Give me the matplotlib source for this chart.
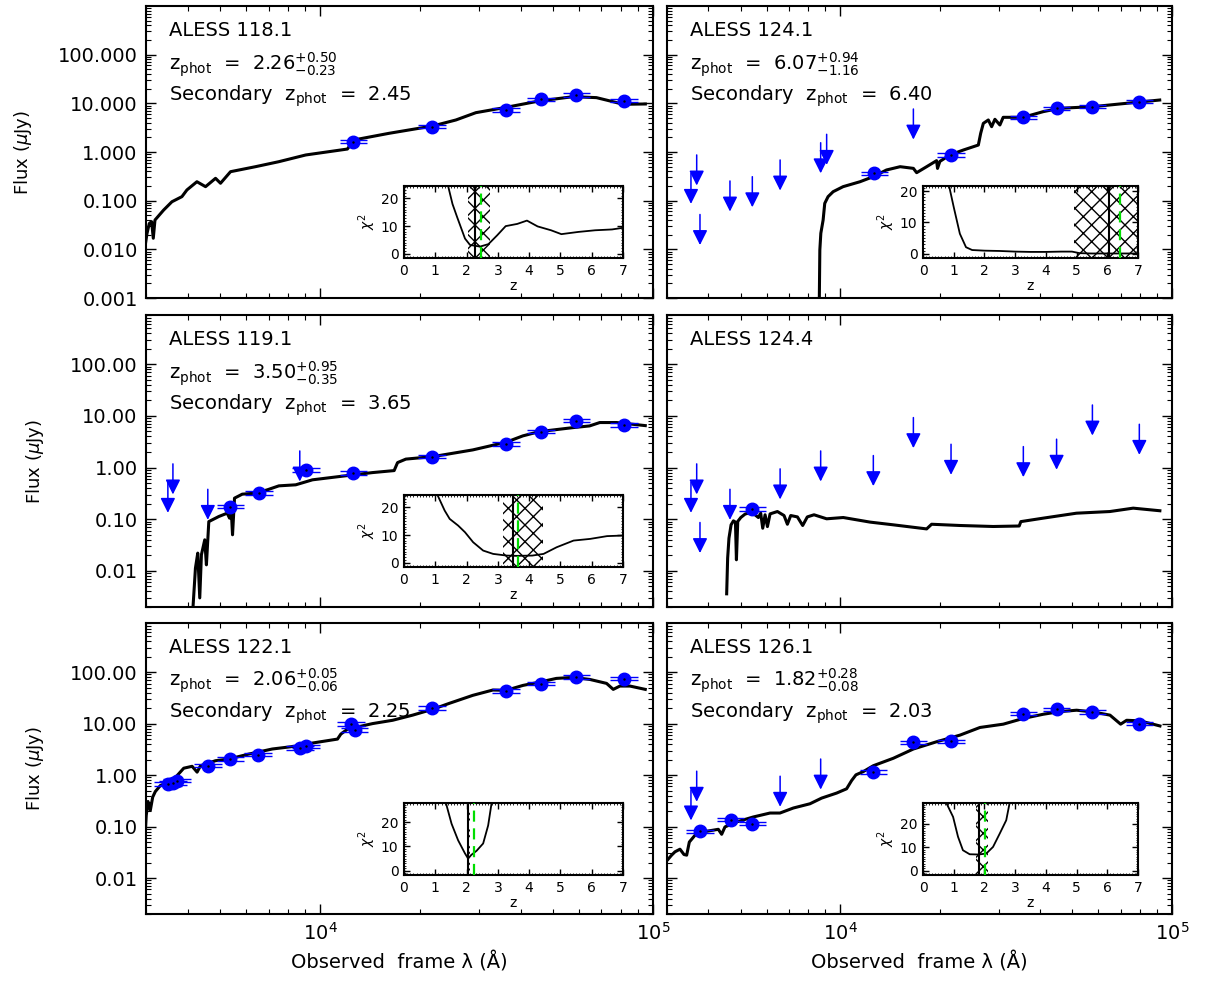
import numpy as np
import matplotlib
matplotlib.use('Agg')
import matplotlib.pyplot as plt
from matplotlib.ticker import FixedLocator, LogLocator, NullFormatter, FormatStrFormatter, MultipleLocator
from matplotlib.transforms import offset_copy

plt.rcParams['font.family'] = ['DejaVu Sans']
plt.rcParams['mathtext.fontset'] = 'dejavusans'
plt.rcParams['hatch.linewidth'] = 1.0

# ---------------- data (wavelength in Angstrom, flux in microJy) ----------------
# ALESS 118.1
sed_lam_118 = [2970, 3020, 3069, 3119, 3155, 3192, 3388, 3589, 3846, 3981, 4266, 4529, 4853, 5023,
               5383, 6397, 7516, 9057, 12078, 12647, 16106, 21777, 25586, 29376, 36224, 45604,
               57544, 67608, 75858, 81283, 94842]
sed_flux_118 = [0.0097, 0.021, 0.034, 0.037, 0.0169, 0.040, 0.064, 0.095, 0.121, 0.166, 0.245, 0.194,
                0.288, 0.228, 0.394, 0.499, 0.632, 0.869, 1.15, 1.77, 2.42, 3.42, 4.55, 6.43, 8.28,
                11.2, 13.7, 13.1, 10.8, 9.55, 9.7]
det_lam_118 = [12600, 21700, 36200, 46000, 58900, 81800]
det_flux_118 = [1.63, 3.31, 7.3, 12.1, 14.8, 11.3]
lim_lam_118 = []
lim_flux_118 = []
chi_z_118 = [1.41, 1.55, 1.70, 1.95, 2.11, 2.43, 2.70, 2.98, 3.25, 3.62, 3.93, 4.27, 4.70, 5.03,
             5.57, 6.11, 6.65, 7.0]
chi_118 = [24.5, 18.0, 13.2, 5.5, 3.2, 2.6, 3.5, 6.7, 10.0, 10.8, 12.0, 9.9, 8.5, 7.1, 7.9, 8.5, 8.8, 9.4]

# ALESS 124.1
sed_lam_1241 = [8630, 8670, 8730, 8870, 8970, 9180, 9510, 10190, 11460, 12560, 13770, 15140, 16600,
                16980, 18200, 19500, 19630, 19950, 21380, 23500, 26060, 26490, 26980, 27930, 28580,
                29240, 30270, 30970, 35560, 40830, 45810, 57810, 72780, 91830]
sed_flux_1241 = [0.0005, 0.0097, 0.0214, 0.040, 0.088, 0.121, 0.153, 0.194, 0.245, 0.311, 0.427,
                 0.499, 0.461, 0.376, 0.499, 0.664, 0.46, 0.64, 0.869, 1.10, 1.39, 2.42, 3.88, 4.55,
                 3.31, 4.70, 3.59, 5.16, 5.16, 6.73, 7.90, 8.55, 10.0, 11.7]
det_lam_1241 = [12650, 21560, 35620, 44870, 57540, 79700]
det_flux_1241 = [0.365, 0.87, 5.16, 7.9, 8.55, 10.8]
lim_lam_1241 = [3543, 3687, 3772, 4645, 5425, 6580, 8720, 9090, 16600]
lim_flux_1241 = [0.365, 0.87, 0.052, 0.254, 0.311, 0.686, 1.55, 2.31, 7.65]
chi_z_1241 = [0.85, 1.0, 1.2, 1.4, 1.6, 2.0, 2.5, 3.0, 3.5, 4.0, 4.5, 4.85, 5.1, 5.5, 6.0, 6.5, 7.0]
chi_1241 = [21.6, 14.9, 6.4, 2.1, 1.2, 1.0, 0.9, 0.7, 0.6, 0.6, 0.7, 0.7, 0.2, 0.1, 0.1, 0.1, 0.1]

# ALESS 119.1
sed_lam_119 = [4125, 4223, 4291, 4351, 4401, 4504, 4556, 4632, 4964, 5260, 5346, 5408, 5458, 5533,
               5838, 6400, 6940, 7520, 8450, 9490, 11400, 14360, 16690, 17090, 18100, 21800, 28750,
               36200, 40650, 45600, 57500, 64500, 69200, 77700, 94800]
sed_flux_119 = [0.001, 0.0113, 0.0221, 0.0030, 0.0205, 0.040, 0.0131, 0.090, 0.113, 0.131, 0.105,
                0.159, 0.050, 0.256, 0.306, 0.32, 0.371, 0.443, 0.464, 0.58, 0.67, 0.80, 0.875, 1.25,
                1.46, 1.63, 2.2, 3.10, 4.11, 4.98, 5.94, 6.41, 7.45, 7.45, 6.5]
det_lam_119 = [5380, 6550, 9060, 12600, 21700, 36200, 46000, 58900, 81800]
det_flux_119 = [0.176, 0.32, 0.90, 0.78, 1.63, 2.84, 4.98, 8.1, 6.7]
lim_lam_119 = [3490, 3614, 4600, 8690]
lim_flux_119 = [0.52, 1.18, 0.38, 2.1]
chi_z_119 = [1.07, 1.3, 1.46, 1.73, 1.95, 2.21, 2.53, 2.85, 3.28, 3.6, 4.1, 4.46, 4.88, 5.42, 5.95,
             6.49, 6.97]
chi_119 = [24.4, 18.8, 15.8, 13.4, 11.0, 7.4, 4.4, 3.2, 2.6, 2.5, 2.6, 3.2, 5.6, 8.0, 8.6, 9.6, 9.8]

# ALESS 124.4
sed_lam_1244 = [4540, 4571, 4613, 4681, 4758, 4825, 4858, 4903, 5008, 5160, 5403, 5658, 5750, 5832,
                5928, 6025, 6137, 6457, 6762, 6921, 7083, 7419, 7696, 7948, 8327, 9090, 10200, 12290,
                14430, 18200, 18840, 22930, 28890, 34610, 35010, 40890, 51520, 64930, 76380, 91920]
sed_flux_1244 = [0.0036, 0.0177, 0.043, 0.078, 0.093, 0.088, 0.0164, 0.0906, 0.108, 0.126, 0.137,
                 0.108, 0.131, 0.067, 0.122, 0.072, 0.127, 0.141, 0.118, 0.080, 0.118, 0.111, 0.0757,
                 0.111, 0.122, 0.102, 0.108, 0.088, 0.078, 0.065, 0.080, 0.0757, 0.0724, 0.074,
                 0.090, 0.105, 0.131, 0.141, 0.164, 0.146]
det_lam_1244 = [5425]
det_flux_1244 = [0.157]
lim_lam_1244 = [3543, 3687, 3772, 4645, 6580, 8720, 12570, 16600, 21560, 35620, 44870, 57540, 79700]
lim_flux_1244 = [0.52, 1.18, 0.0865, 0.38, 0.945, 2.1, 1.71, 9.3, 2.83, 2.55, 3.55, 16.3, 6.9]

# ALESS 122.1
sed_lam_122 = [2990, 3005, 3042, 3091, 3142, 3200, 3313, 3511, 3720, 3895, 4127, 4272, 4373, 4852,
               5320, 6110, 7185, 8645, 9480, 11280, 11540, 12090, 14380, 16520, 18970, 21800, 24470,
               28760, 33040, 36200, 40690, 45650, 51260, 57540, 64600, 72530, 75960, 79540, 85260,
               94800]
sed_flux_122 = [0.091, 0.165, 0.307, 0.206, 0.373, 0.479, 0.626, 0.728, 0.977, 1.36, 1.48, 1.14, 1.52,
                1.90, 2.05, 2.56, 3.21, 3.71, 4.19, 5.0, 6.24, 7.8, 10.0, 11.6, 14.6, 19.0, 24.8, 35.4,
                44.9, 44.3, 55.2, 64, 75.5, 79, 72.1, 60.4, 46.2, 53.6, 53.6, 46.2]
det_lam_122 = [3490, 3614, 3715, 4610, 5380, 6520, 8690, 9060, 12400, 12700, 21700, 36200, 46000,
               58900, 81800]
det_flux_122 = [0.675, 0.706, 0.78, 1.52, 2.05, 2.49, 3.35, 3.61, 9.75, 7.57, 19.9, 43, 59.6, 80, 74.5]
lim_lam_122 = []
lim_flux_122 = []
chi_z_122 = [1.34, 1.52, 1.73, 1.95, 2.05, 2.15, 2.21, 2.32, 2.53, 2.69, 2.8]
chi_122 = [27.8, 19.3, 12.5, 7.1, 5.0, 6.5, 7.1, 8.2, 11.2, 18.6, 27.8]

# ALESS 126.1
sed_lam_126 = [3006, 3097, 3171, 3283, 3376, 3439, 3503, 3643, 3952, 4284, 4385, 4487, 4866, 5452,
               6134, 6573, 7211, 8096, 8779, 9743, 10440, 10810, 11140, 11730, 12570, 14440, 16600,
               19510, 22940, 26360, 30990, 35620, 40920, 45930, 51570, 57890, 65010, 70000, 72980,
               80070, 91970]
sed_flux_126 = [0.0222, 0.0278, 0.0323, 0.0363, 0.0286, 0.0278, 0.050, 0.0677, 0.081, 0.0884, 0.0707,
                0.0984, 0.123, 0.153, 0.183, 0.183, 0.229, 0.277, 0.357, 0.447, 0.541, 0.782, 1.01,
                1.17, 1.52, 2.12, 3.21, 4.44, 5.97, 8.41, 9.75, 12.6, 15.2, 17.1, 18.2, 16.8, 14.6,
                9.75, 11.6, 11.3, 9.0]
det_lam_126 = [3772, 4669, 5425, 12570, 16600, 21560, 35620, 44870, 57540, 79700]
det_flux_126 = [0.081, 0.136, 0.114, 1.14, 4.32, 4.51, 15.7, 19.0, 16.8, 10.0]
lim_lam_126 = [3543, 3687, 6580, 8720]
lim_flux_126 = [0.516, 1.19, 0.95, 2.05]
chi_z_126 = [0.76, 0.98, 1.14, 1.30, 1.52, 1.81, 2.06, 2.28, 2.50, 2.71, 2.82]
chi_126 = [28.7, 22.8, 14.4, 8.7, 7.0, 6.9, 7.3, 10.1, 15.8, 21.4, 28.7]

# names and photometric redshifts: best, -err, +err, secondary, chi2 axis top
names = ['ALESS 118.1', 'ALESS 124.1', 'ALESS 119.1', 'ALESS 124.4', 'ALESS 122.1', 'ALESS 126.1']
z_best = [2.26, 6.07, 3.50, None, 2.06, 1.82]
z_err_lo = [0.23, 1.16, 0.35, None, 0.06, 0.08]
z_err_hi = [0.50, 0.94, 0.95, None, 0.05, 0.28]
z_second = [2.45, 6.40, 3.65, None, 2.25, 2.03]
chi_top = [24.5, 21.6, 24.4, None, 27.8, 28.7]

sources = [
    (sed_lam_118, sed_flux_118, det_lam_118, det_flux_118, lim_lam_118, lim_flux_118, chi_z_118, chi_118),
    (sed_lam_1241, sed_flux_1241, det_lam_1241, det_flux_1241, lim_lam_1241, lim_flux_1241, chi_z_1241, chi_1241),
    (sed_lam_119, sed_flux_119, det_lam_119, det_flux_119, lim_lam_119, lim_flux_119, chi_z_119, chi_119),
    (sed_lam_1244, sed_flux_1244, det_lam_1244, det_flux_1244, lim_lam_1244, lim_flux_1244, None, None),
    (sed_lam_122, sed_flux_122, det_lam_122, det_flux_122, lim_lam_122, lim_flux_122, chi_z_122, chi_122),
    (sed_lam_126, sed_flux_126, det_lam_126, det_flux_126, lim_lam_126, lim_flux_126, chi_z_126, chi_126),
]

row_ylim = [(0.001, 1000), (0.002, 900), (0.002, 900)]
row_yticks = [[0.001, 0.01, 0.1, 1, 10, 100], [0.01, 0.1, 1, 10, 100], [0.01, 0.1, 1, 10, 100]]
row_yfmt = ['%.3f', '%.2f', '%.2f']

# ---------------- layout (pixels) ----------------
W, H = 1205, 985
col_x = [(146, 653), (667, 1172)]
row_y = [(6, 298), (315, 607), (623, 914)]
inset_x = [(404, 623), (923, 1138)]
inset_dy = (180, 252)

ERR_LAM = 1.10
ERR_FLUX = 1.08
BLUE = '#0000ff'
GREEN = '#00dd00'


def fig_box(x0, y0, x1, y1):
    return [x0 / W, 1 - y1 / H, (x1 - x0) / W, (y1 - y0) / H]


fig = plt.figure(figsize=(W / 100, H / 100), dpi=100)

for i, name in enumerate(names):
    row, col = i // 2, i % 2
    sed_l, sed_f, dl, dfl, ll, lf, cz, cv = sources[i]
    x0, x1 = col_x[col]
    y0, y1 = row_y[row]
    ax = fig.add_axes(fig_box(x0, y0, x1, y1))
    ax.set_xscale('log')
    ax.set_yscale('log')
    ax.set_xlim(3000, 1e5)
    ax.set_ylim(*row_ylim[row])

    ax.plot(sed_l, sed_f, color='k', lw=2.2, solid_joinstyle='round', zorder=2)

    dl = np.array(dl, float)
    dfl = np.array(dfl, float)
    ax.hlines(dfl * ERR_FLUX, dl / ERR_LAM, dl * ERR_LAM, color=BLUE, lw=1.0, zorder=3)
    ax.hlines(dfl / ERR_FLUX, dl / ERR_LAM, dl * ERR_LAM, color=BLUE, lw=1.0, zorder=3)
    ax.plot(dl, dfl, 'o', color=BLUE, ms=9, mec=BLUE, zorder=4)
    ax.plot(dl, dfl, '.', color='k', ms=1.5, zorder=5)

    tip = offset_copy(ax.transData, fig=fig, x=0, y=-22, units='points')
    for l, f in zip(ll, lf):
        ax.annotate('', xy=(l, f), xycoords=tip, xytext=(l, f), textcoords='data',
                    arrowprops=dict(arrowstyle='-|>,head_length=0.6,head_width=0.3',
                                    color=BLUE, lw=1.1, shrinkA=0, shrinkB=0,
                                    mutation_scale=15))

    for s in ax.spines.values():
        s.set_linewidth(1.5)
    ax.tick_params(which='both', direction='in', top=True, right=True, labelsize=14)
    ax.tick_params(which='major', length=7, width=1.0, pad=6)
    ax.tick_params(which='minor', length=3.5, width=0.8)
    ax.xaxis.set_major_locator(FixedLocator([1e4, 1e5]))
    ax.xaxis.set_minor_locator(LogLocator(base=10, subs=np.arange(2, 10), numticks=10))
    ax.xaxis.set_minor_formatter(NullFormatter())
    ax.yaxis.set_major_locator(FixedLocator(row_yticks[row]))
    ax.yaxis.set_minor_locator(LogLocator(base=10, subs=np.arange(2, 10), numticks=20))
    ax.yaxis.set_minor_formatter(NullFormatter())
    if col == 0:
        ax.yaxis.set_major_formatter(FormatStrFormatter(row_yfmt[row]))
        ax.set_ylabel(r'Flux ($\mu$Jy)', fontsize=13, labelpad=17)
    else:
        ax.tick_params(labelleft=False)
    if row == 2:
        ax.set_xlabel('Observed  frame \u03bb (Å)', fontsize=14, labelpad=5)
    else:
        ax.tick_params(labelbottom=False)

    ax.text(0.046, 0.915, name, transform=ax.transAxes, fontsize=14, va='center')
    if z_best[i] is None:
        continue
    ax.text(0.046, 0.80,
            r'z$_{\rm phot}$  =  $%.2f^{+%.2f}_{-%.2f}$' % (z_best[i], z_err_hi[i], z_err_lo[i]),
            transform=ax.transAxes, fontsize=14, va='center')
    ax.text(0.046, 0.69, r'Secondary  z$_{\rm phot}$  =  %.2f' % z_second[i],
            transform=ax.transAxes, fontsize=14, va='center')

    # chi^2 inset
    ix0, ix1 = inset_x[col]
    ins = fig.add_axes(fig_box(ix0, y0 + inset_dy[0], ix1, y0 + inset_dy[1]))
    ins.axvspan(z_best[i] - z_err_lo[i], z_best[i] + z_err_hi[i], facecolor='none',
                edgecolor='k', hatch='xx', lw=0, zorder=1)
    ins.plot(cz, cv, color='k', lw=1.3, zorder=2)
    ins.axvline(z_best[i], color='k', lw=1.5, zorder=3)
    ins.axvline(z_second[i], color=GREEN, lw=1.6, ls=(0, (5, 3)), zorder=4)
    ins.set_xlim(0, 7)
    ins.set_ylim(-0.062 * chi_top[i], chi_top[i])
    for s in ins.spines.values():
        s.set_linewidth(1.5)
    ins.xaxis.set_major_locator(MultipleLocator(1))
    ins.xaxis.set_minor_locator(MultipleLocator(0.1))
    ins.yaxis.set_major_locator(FixedLocator([0, 10, 20]))
    ins.yaxis.set_minor_locator(MultipleLocator(1))
    ins.tick_params(which='both', direction='in', top=True, right=True, labelsize=10)
    ins.tick_params(which='major', length=4, width=1.0, pad=4)
    ins.tick_params(which='minor', length=1.5, width=0.6)
    ins.set_xlabel('z', fontsize=10, labelpad=1)
    ins.set_ylabel(r'$\chi^2$', fontsize=10, labelpad=2)

fig.savefig('out.png', dpi=100)
